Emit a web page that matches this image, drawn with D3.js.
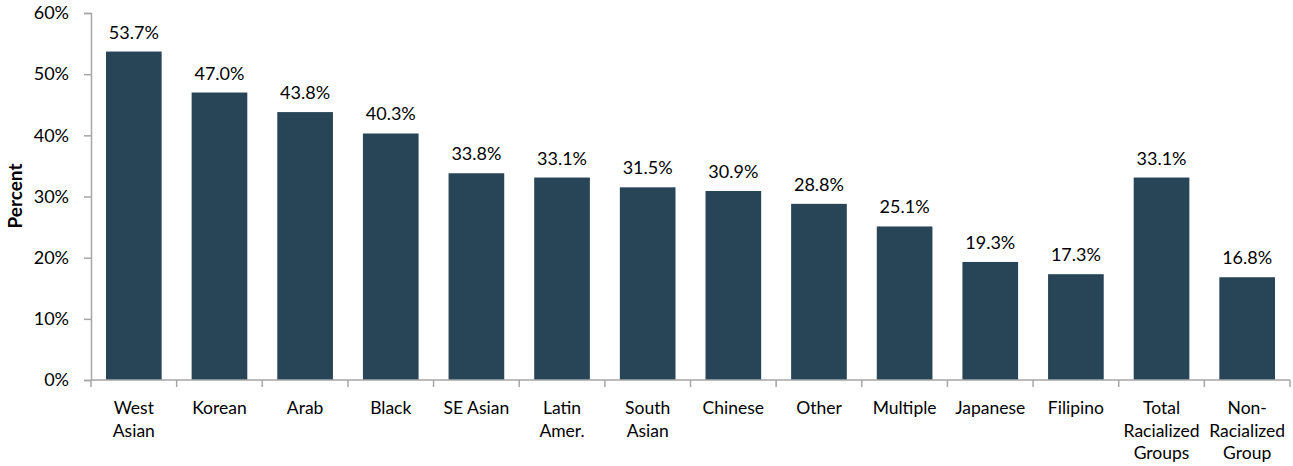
<!DOCTYPE html>
<html><head><meta charset="utf-8">
<script src="https://cdn.jsdelivr.net/npm/d3@7"></script>
<style>body{margin:0;background:#fff;} text{font-family:Lato,"Open Sans",sans-serif;}</style>
</head><body>
<svg id="c" width="1293" height="466"></svg>
<script>
const categories = [["West","Asian"],["Korean"],["Arab"],["Black"],["SE Asian"],["Latin","Amer."],["South","Asian"],["Chinese"],["Other"],["Multiple"],["Japanese"],["Filipino"],["Total","Racialized","Groups"],["Non-","Racialized","Group"]];
const values = [53.7,47.0,43.8,40.3,33.8,33.1,31.5,30.9,28.8,25.1,19.3,17.3,33.1,16.8];
const yTicks = [0,10,20,30,40,50,60];

const svg = d3.select("#c");
const m = {left:91, right:1290, top:13, bottom:380};
const keys = categories.map((c,i)=>i);
const x = d3.scaleBand().domain(keys).range([m.left,m.right]).paddingInner(0.35).paddingOuter(0.175);
const y = d3.scaleLinear().domain([0,60]).range([m.bottom,m.top]);
const color = "#284457";
const axisColor = "#a6a6a6";
const font = "Lato,'Open Sans',sans-serif";

// bars
svg.selectAll("rect.bar").data(values).enter().append("rect")
  .attr("x",(d,i)=>x(i)).attr("width",x.bandwidth())
  .attr("y",d=>y(d)).attr("height",d=>y(0)-y(d)).attr("fill",color);

// value labels
svg.selectAll("text.val").data(values).enter().append("text")
  .attr("x",(d,i)=>x(i)+x.bandwidth()/2).attr("y",d=>y(d)-13)
  .attr("text-anchor","middle").attr("font-size",18).attr("fill","#000")
  .text(d=>d.toFixed(1)+"%");

// y axis
const yAxis = d3.axisLeft(y).tickValues(yTicks).tickFormat(d=>d+"%").tickSize(7).tickPadding(15);
const gy = svg.append("g").attr("transform",`translate(${m.left},0)`).call(yAxis);
gy.select(".domain").attr("stroke",axisColor).attr("stroke-width",1.5);
gy.selectAll(".tick line").attr("stroke",axisColor).attr("stroke-width",1.5);
gy.selectAll(".tick text").attr("font-size",18).attr("fill","#000").style("font-family",font);

// x axis line + category boundary ticks
const gx = svg.append("g");
gx.append("line").attr("x1",m.left).attr("x2",m.right).attr("y1",y(0)).attr("y2",y(0))
  .attr("stroke",axisColor).attr("stroke-width",1.5);
const step = x.step();
const gap = (step - x.bandwidth())/2;
const bx = d3.range(categories.length+1).map(i=> i<categories.length ? x(i)-gap : x(categories.length-1)+x.bandwidth()+gap);
gx.selectAll("line.bt").data(bx).enter().append("line")
  .attr("x1",d=>d).attr("x2",d=>d).attr("y1",y(0)).attr("y2",y(0)+7)
  .attr("stroke",axisColor).attr("stroke-width",1.5);

// category labels
const cl = svg.selectAll("text.cat").data(categories).enter().append("text")
  .attr("text-anchor","middle").attr("font-size",17.5).attr("fill","#000")
  .attr("transform",(d,i)=>`translate(${x(i)+x.bandwidth()/2},414)`);
cl.selectAll("tspan").data(d=>d).enter().append("tspan")
  .attr("x",0).attr("dy",(d,i)=>i===0?0:22.5).text(d=>d);

// y title
svg.append("text").attr("transform","translate(22,196) rotate(-90)")
  .attr("text-anchor","middle").attr("font-size",19).attr("font-weight","bold").attr("fill","#000")
  .text("Percent");
</script>
</body></html>
